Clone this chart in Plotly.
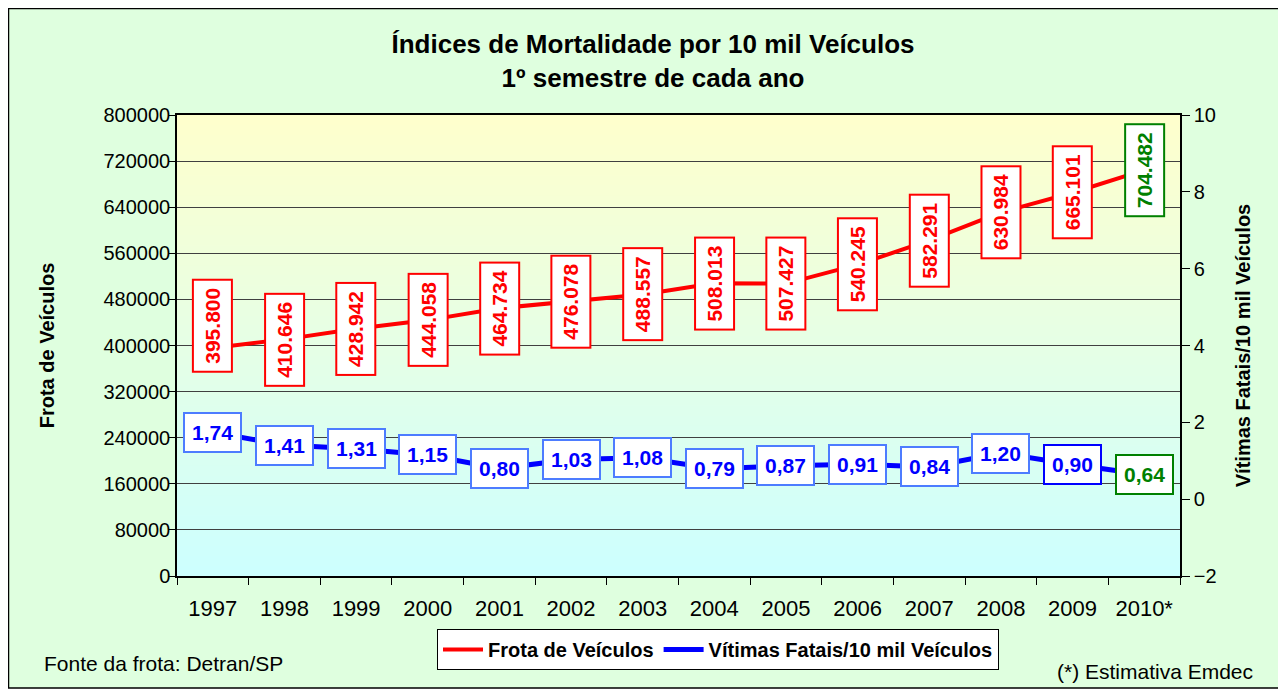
import plotly.graph_objects as go

anos = ["1997", "1998", "1999", "2000", "2001", "2002", "2003", "2004",
        "2005", "2006", "2007", "2008", "2009", "2010*"]
frota = [395800, 410646, 428942, 444058, 464734, 476078, 488557, 508013,
         507427, 540245, 582291, 630984, 665101, 704482]
vitimas = [1.74, 1.41, 1.31, 1.15, 0.80, 1.03, 1.08, 0.79, 0.87, 0.91,
           0.84, 1.20, 0.90, 0.64]

FONT = "Liberation Sans, Arial, sans-serif"
OFF = 8  # page body margin
W, H = 1278, 683
L, R, T, B = 169, 106, 107, 115
PW, PH = W - L - R, H - T - B


def px_x(page_x):
    return (page_x - OFF - L) / PW


def px_y(page_y):
    return (H - B - (page_y - OFF)) / PH


def fmt_frota(v):
    return f"{v:,}".replace(",", ".")


def fmt_vit(v):
    return f"{v:.2f}".replace(".", ",")


fig = go.Figure()
fig.add_trace(go.Scatter(x=anos, y=frota, mode="lines", name="Frota de Veículos",
                         line=dict(color="#FF0000", width=4), yaxis="y"))
fig.add_trace(go.Scatter(x=anos, y=vitimas, mode="lines",
                         name="Vítimas Fatais/10 mil Veículos",
                         line=dict(color="#0000FF", width=5), yaxis="y2"))

shapes = []
# outer frame
shapes.append(dict(type="rect", xref="paper", yref="paper",
                   x0=px_x(8.5), x1=px_x(1280), y0=px_y(688), y1=px_y(8.5),
                   fillcolor="#DFFFDF", line=dict(color="#000000", width=1.5),
                   layer="below"))
# plot-area vertical gradient (yellow top -> cyan bottom)
n = 46
c_top = (0xFF, 0xFF, 0xCC)
c_bot = (0xCC, 0xFF, 0xFF)
for i in range(n):
    t = (i + 0.5) / n
    col = tuple(round(c_bot[k] + (c_top[k] - c_bot[k]) * t) for k in range(3))
    shapes.append(dict(type="rect", xref="paper", yref="paper",
                       x0=0, x1=1, y0=i / n, y1=min(1, (i + 1) / n + 0.002),
                       fillcolor="rgb(%d,%d,%d)" % col, line=dict(width=0),
                       layer="below"))

annotations = []
last = len(anos) - 1
shift_frota = {0: 22}
for i, v in enumerate(frota):
    col = "#008000" if i == last else "#FF0000"
    annotations.append(dict(x=i, y=v, xref="x", yref="y", text=fmt_frota(v),
                            showarrow=False, textangle=-90,
                            yshift=shift_frota.get(i, 0),
                            font=dict(family=FONT, size=21, color=col, weight="bold"),
                            bgcolor="#FFFFFF", bordercolor=col, borderwidth=2,
                            borderpad=7))
for i, v in enumerate(vitimas):
    if i == last:
        col, bcol = "#008000", "#008000"
    elif i == last - 1:
        col, bcol = "#0000FF", "#0000FF"
    else:
        col, bcol = "#0000FF", "#4D7CFF"
    annotations.append(dict(x=i, y=v, xref="x", yref="y2", text=fmt_vit(v),
                            showarrow=False,
                            font=dict(family=FONT, size=21, color=col, weight="bold"),
                            bgcolor="#FFFFFF", bordercolor=bcol, borderwidth=2,
                            borderpad=7))
annotations.append(dict(x=px_x(42), y=px_y(663), xref="paper", yref="paper",
                        xanchor="left", yanchor="middle", showarrow=False,
                        text="Fonte da frota: Detran/SP",
                        font=dict(family=FONT, size=21, color="#000000")))
annotations.append(dict(x=px_x(1255), y=px_y(671), xref="paper", yref="paper",
                        xanchor="right", yanchor="middle", showarrow=False,
                        text="(*) Estimativa Emdec",
                        font=dict(family=FONT, size=21, color="#000000")))

fig.update_layout(
    width=W, height=H,
    margin=dict(l=L, r=R, t=T, b=B, autoexpand=False),
    paper_bgcolor="#FFFFFF", plot_bgcolor="rgba(0,0,0,0)",
    font=dict(family=FONT, color="#000000"),
    title=dict(text="Índices de Mortalidade por 10 mil Veículos<br>1º semestre de cada ano",
               x=(653 - OFF) / W, xanchor="center", y=1 - 45 / H, yanchor="middle",
               yref="container", xref="container",
               font=dict(family=FONT, size=26, color="#000000", weight="bold")),
    xaxis=dict(type="category", categoryorder="array", categoryarray=anos,
               range=[-0.5, len(anos) - 0.5], autorange=False,
               showline=True, linecolor="#000000", linewidth=1.5, mirror=True,
               ticks="outside", ticklen=7, tickcolor="#000000", tickson="boundaries",
               ticklabelstandoff=12,
               showgrid=False, tickfont=dict(family=FONT, size=22)),
    yaxis=dict(range=[0, 800000], autorange=False, dtick=80000, tick0=0,
               showline=True, linecolor="#000000", linewidth=1.5,
               ticks="outside", ticklen=6, tickcolor="#000000",
               ticklabelstandoff=-5,
               showgrid=True, gridcolor="#404040", gridwidth=1, zeroline=False,
               tickformat="d", tickfont=dict(family=FONT, size=20),
               title=dict(text="Frota de Veículos", standoff=44,
                          font=dict(family=FONT, size=20, weight="bold"))),
    yaxis2=dict(range=[-2, 10], autorange=False, dtick=2, tick0=0,
                overlaying="y", side="right",
                showline=True, linecolor="#000000", linewidth=1.5,
                ticks="outside", ticklen=8, tickcolor="#000000",
                showgrid=False, zeroline=False, tickfont=dict(family=FONT, size=20),
                title=dict(text="Vítimas Fatais/10 mil Veículos", standoff=20,
                           font=dict(family=FONT, size=20, weight="bold"))),
    legend=dict(orientation="h", x=px_x(718), xanchor="center", y=px_y(629),
                yanchor="top", bgcolor="#FFFFFF", bordercolor="#000000",
                borderwidth=1, font=dict(family=FONT, size=20, weight="bold"),
                itemwidth=40, tracegroupgap=0),
    shapes=shapes, annotations=annotations, showlegend=True,
)

fig.write_html("out.html")
